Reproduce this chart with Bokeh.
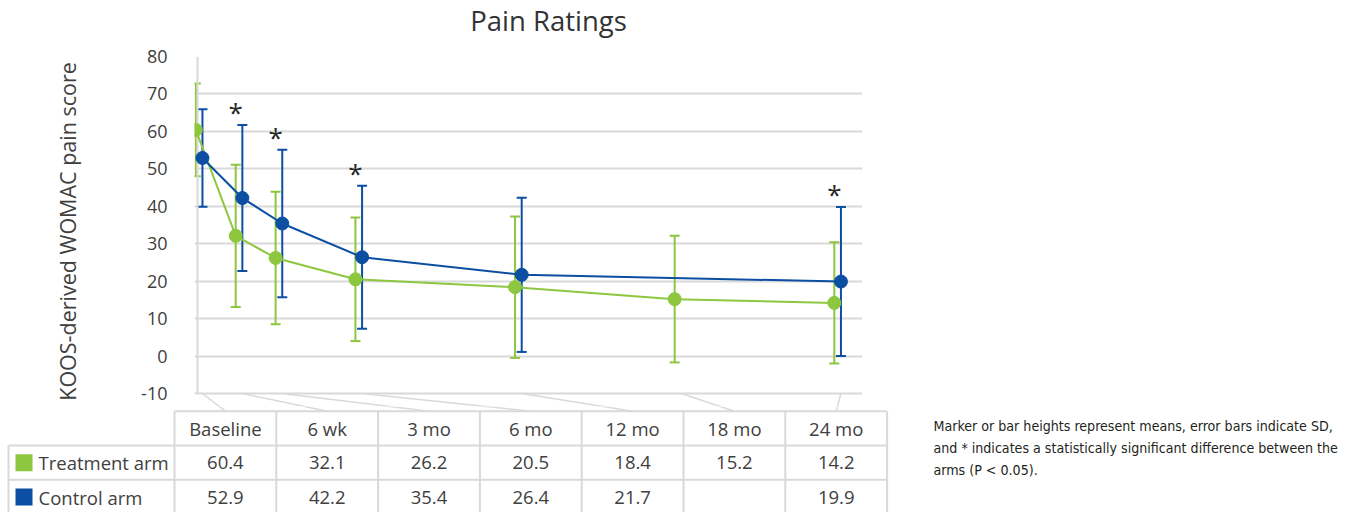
from bokeh.plotting import figure
from bokeh.layouts import column
from bokeh.models import ColumnDataSource, Whisker, TeeHead, Range1d, FixedTicker
from bokeh.core.properties import value
from bokeh.embed import file_html
from bokeh.resources import INLINE

# ---------------- data ----------------
title = "Pain Ratings"
timepoints = ["Baseline", "6 wk", "3 mo", "6 mo", "12 mo", "18 mo", "24 mo"]
months = [0, 1.5, 3, 6, 12, 18, 24]
treat_mean = [60.4, 32.1, 26.2, 20.5, 18.4, 15.2, 14.2]
treat_sd = [12.4, 19.0, 17.7, 16.5, 18.9, 16.9, 16.2]
control_mean = [52.9, 42.2, 35.4, 26.4, 21.7, None, 19.9]
control_sd = [13.0, 19.5, 19.7, 19.1, 20.6, None, 19.9]
significant = [False, True, True, True, False, False, True]
series_names = ["Treatment arm", "Control arm"]
y_ticks = [-10, 0, 10, 20, 30, 40, 50, 60, 70, 80]
footnote = [
    "Marker or bar heights represent means, error bars indicate SD,",
    "and * indicates a statistically significant difference between the",
    "arms (P < 0.05).",
]

# ---------------- style / layout (page pixels) ----------------
FONT = "Open Sans"
NOTE_FONT = "DejaVu Sans Condensed"
GREEN = "#8dc63f"
BLUE = "#0b4ea2"
GRID = "#d9d9d9"
TEXT = "#404040"
W = 1344
HEAD_H = 40                   # title strip height
FRAME_LEFT, FRAME_RIGHT, FRAME_TOP = 194, 862, 56
YMIN_PX = 393                 # pixel row of the lowest tick
H1 = 406                      # page row where the table strip starts
TABLE_H = 512 - H1
FRAME_W = FRAME_RIGHT - FRAME_LEFT
X0, X1 = -0.049, 25.06
YMIN, YMAX = y_ticks[0], y_ticks[-1]
PX_PER_UNIT = (YMIN_PX - FRAME_TOP) / (YMAX - YMIN)
Y0 = YMIN - (H1 - YMIN_PX) / PX_PER_UNIT
DODGE = 0.25
AXIS_LINE_X = 0.065


def fig_x(m):
    return FRAME_LEFT + (m - X0) / (X1 - X0) * FRAME_W


def main_x(fx):
    return X0 + (fx - FRAME_LEFT) / FRAME_W * (X1 - X0)


def fig_y(v):
    return FRAME_TOP + (YMAX - v) * PX_PER_UNIT


def main_y(fy):
    return YMAX - (fy - FRAME_TOP) / PX_PER_UNIT


def strip(height):
    f = figure(width=W, height=height, x_range=Range1d(0, W), y_range=Range1d(height, 0),
               output_backend="svg", toolbar_location=None,
               x_axis_location=None, y_axis_location=None,
               min_border_left=0, min_border_right=0, min_border_top=0, min_border_bottom=0)
    f.frame_align = False
    f.outline_line_color = None
    f.grid.visible = False
    return f


# ---------------- title strip ----------------
head = strip(HEAD_H)
head.text([548], [20], text=[title], text_font=value(FONT), text_font_size="27.5px",
          text_color="#333333", text_align="center", text_baseline="middle")

# ---------------- main chart ----------------
p = figure(width=W, height=H1 - HEAD_H, x_range=Range1d(X0, X1), y_range=Range1d(Y0, YMAX),
           output_backend="svg", toolbar_location=None, x_axis_location=None,
           min_border_left=FRAME_LEFT, min_border_right=W - FRAME_RIGHT,
           min_border_top=FRAME_TOP - HEAD_H, min_border_bottom=0)
p.frame_align = False
p.outline_line_color = None
p.xgrid.visible = False
p.ygrid.grid_line_color = GRID
p.ygrid.grid_line_width = 2
p.yaxis.ticker = FixedTicker(ticks=y_ticks)
p.yaxis.major_label_overrides = {v: str(v) for v in y_ticks}
p.yaxis.axis_line_color = None
p.yaxis.major_tick_line_color = None
p.yaxis.minor_tick_line_color = None
p.yaxis.major_label_standoff = 21
p.yaxis.major_label_text_font = FONT
p.yaxis.major_label_text_font_size = "18px"
p.yaxis.major_label_text_color = TEXT
p.yaxis.axis_label = "KOOS-derived WOMAC pain score"
p.yaxis.axis_label_text_font = FONT
p.yaxis.axis_label_text_font_size = "21.5px"
p.yaxis.axis_label_text_font_style = "normal"
p.yaxis.axis_label_text_color = TEXT
p.yaxis.axis_label_standoff = 56

# left axis line, from lowest to highest tick
p.segment(x0=[AXIS_LINE_X], y0=[YMIN], x1=[AXIS_LINE_X], y1=[YMAX], line_color=GRID, line_width=2)

LEG_LEFT, LEG_RIGHT = 8, 174
COL_W = 101.8
ROW_PAGE_Y = [410.7, 445, 479.3]
ROW_Y = [v - H1 for v in ROW_PAGE_Y]
n = len(timepoints)
col_left = [LEG_RIGHT + i * COL_W for i in range(n + 1)]
col_center = [LEG_RIGHT + (i + 0.5) * COL_W for i in range(n)]

# floor connectors: from each category (at the lowest tick) to its table column
fl_x0 = [fig_x(m + DODGE) for m in months]
fl_y0 = [fig_y(YMIN)] * n
fl_x1 = col_center
fl_y1 = [ROW_PAGE_Y[0]] * n
p.segment(x0=[main_x(v) for v in fl_x0], y0=[main_y(v) for v in fl_y0],
          x1=[main_x(v) for v in fl_x1], y1=[main_y(v) for v in fl_y1],
          line_color=GRID, line_width=1.5)

t_src = ColumnDataSource(dict(
    x=months, y=treat_mean,
    upper=[m + s for m, s in zip(treat_mean, treat_sd)],
    lower=[m - s for m, s in zip(treat_mean, treat_sd)]))
idx = [i for i, v in enumerate(control_mean) if v is not None]
c_src = ColumnDataSource(dict(
    x=[months[i] + DODGE for i in idx], y=[control_mean[i] for i in idx],
    upper=[control_mean[i] + control_sd[i] for i in idx],
    lower=[control_mean[i] - control_sd[i] for i in idx]))

for src, col in ((t_src, GREEN), (c_src, BLUE)):
    w = Whisker(source=src, base="x", upper="upper", lower="lower", dimension="height",
                line_color=col, line_width=2,
                upper_head=TeeHead(size=10, line_color=col, line_width=2),
                lower_head=TeeHead(size=10, line_color=col, line_width=2))
    p.add_layout(w)
    p.line("x", "y", source=src, line_color=col, line_width=2)
    p.scatter("x", "y", source=src, marker="circle", size=13, fill_color=col, line_color=col)

sig_x = [months[i] for i in range(n) if significant[i]]
sig_y = [control_mean[i] + control_sd[i] + 3.5 for i in range(n) if significant[i]]
p.text(sig_x, sig_y, text=["*"] * len(sig_x), text_font=value(FONT), text_font_size="26px",
       text_color="#262626", text_align="center", text_baseline="middle")

# ---------------- data table ----------------
t = strip(TABLE_H)

t.segment(x0=fl_x0, y0=[v - H1 for v in fl_y0], x1=fl_x1, y1=[v - H1 for v in fl_y1],
          line_color=GRID, line_width=1.5)

# table borders
t.segment(x0=[LEG_RIGHT, LEG_LEFT, LEG_LEFT], y0=ROW_Y, x1=[col_left[-1]] * 3, y1=ROW_Y,
          line_color=GRID, line_width=2)
t.segment(x0=col_left, y0=[ROW_Y[0]] * len(col_left), x1=col_left, y1=[TABLE_H] * len(col_left),
          line_color=GRID, line_width=2)
t.segment(x0=[LEG_LEFT], y0=[ROW_Y[1]], x1=[LEG_LEFT], y1=[TABLE_H], line_color=GRID, line_width=2)

hdr_y = (ROW_Y[0] + ROW_Y[1]) / 2
r1_y = (ROW_Y[1] + ROW_Y[2]) / 2
r2_y = 497 - H1
txt = dict(text_font=value(FONT), text_font_size="18.5px", text_color=TEXT,
           text_align="center", text_baseline="middle")
t.text(col_center, [hdr_y] * n, text=timepoints, **txt)
t.text(col_center, [r1_y] * n, text=[f"{v:.1f}" for v in treat_mean], **txt)
t.text(col_center, [r2_y] * n, text=["" if v is None else f"{v:.1f}" for v in control_mean], **txt)

t.rect([23.5, 23.5], [r1_y, r2_y - 0.5], width=17, height=17, fill_color=[GREEN, BLUE], line_color=None)
t.text([38, 38], [r1_y, r2_y], text=series_names, text_font=value(FONT), text_font_size="18.5px",
       text_color=TEXT, text_align="left", text_baseline="middle")

t.text([933] * 3, [v - H1 for v in (425, 447, 469)], text=footnote, text_font=value(NOTE_FONT),
       text_font_size="14.1px", text_color="#231f20", text_align="left", text_baseline="middle")

layout = column(head, p, t, spacing=0)
open("out.html", "w").write(file_html(layout, INLINE))
